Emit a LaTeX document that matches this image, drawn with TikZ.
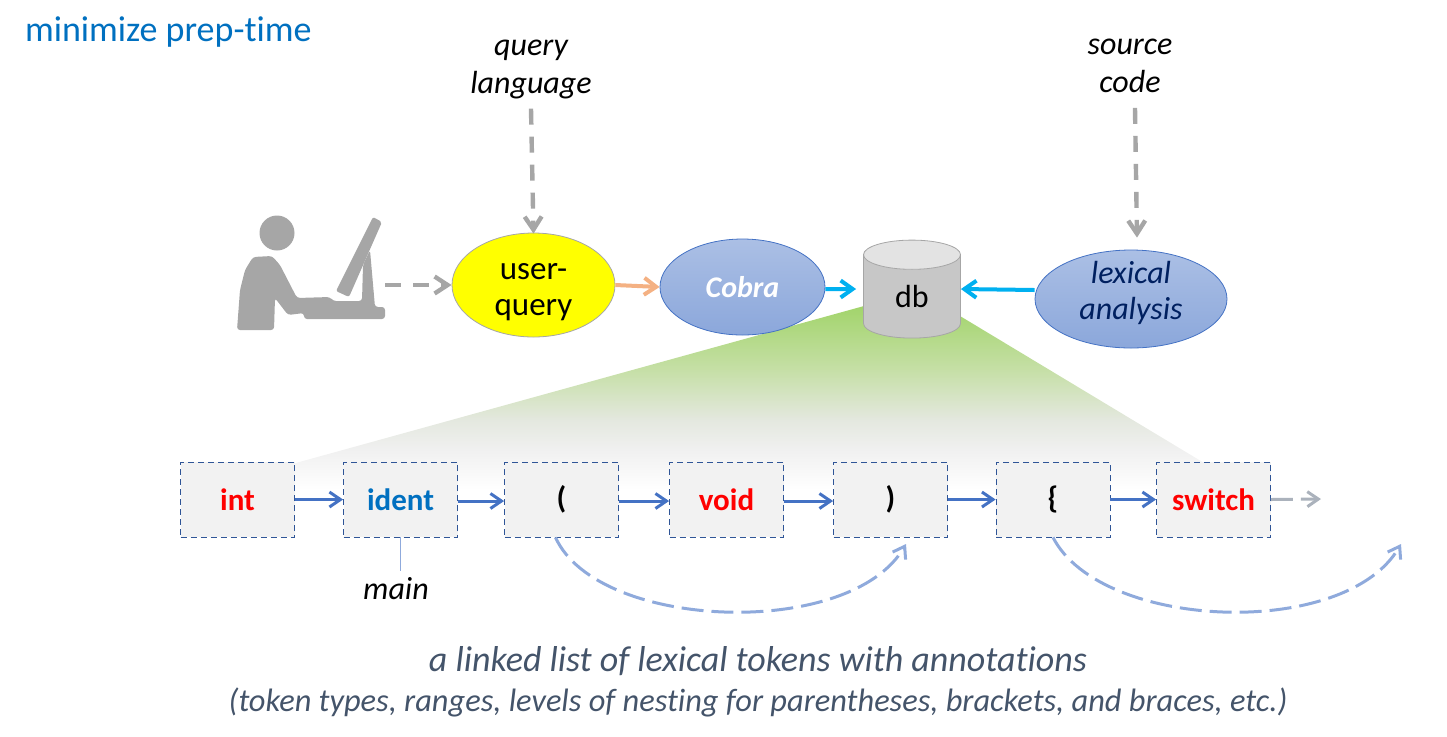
\documentclass[tikz,border=0pt]{standalone}
\usepackage{fontspec}
\setmainfont{Carlito}[Ligatures=NoCommon]
\usetikzlibrary{shapes.geometric, arrows.meta, positioning}
\definecolor{Title}{RGB}{0, 112, 192}
\definecolor{Slate}{RGB}{68, 84, 106}
\definecolor{Ash}{RGB}{166, 166, 166}
\definecolor{Peach}{RGB}{244, 177, 131}
\definecolor{Sky}{RGB}{0, 176, 240}
\definecolor{Link}{RGB}{68, 114, 196}
\definecolor{Soft}{RGB}{143, 170, 220}
\definecolor{Navy}{RGB}{0, 32, 96}
\definecolor{Edge}{RGB}{47, 85, 151}
\definecolor{Lemon}{RGB}{255, 255, 0}
\definecolor{Scarlet}{RGB}{255, 0, 0}
\definecolor{Leaf}{RGB}{162, 212, 107}
\definecolor{Pale}{RGB}{197, 223, 165}
\definecolor{Fog}{RGB}{228, 232, 223}
\definecolor{Mist}{RGB}{240, 240, 240}
\pgfdeclareverticalshading{zoomfade}{100bp}{color(0bp)=(white); color(25bp)=(white); color(36bp)=(Mist); color(44bp)=(Fog); color(58bp)=(Pale); color(75bp)=(Leaf); color(100bp)=(Leaf)}
\tikzset{
  note/.style={font=\fontsize{16}{19}\selectfont\itshape, align=center},
  tool/.style={ellipse, draw=Link, inner sep=0pt, inner ysep=-3pt, top color=Soft!75!white, bottom color=Soft!95!Link, align=center, font=\fontsize{16}{18}\selectfont\itshape},
  token/.style={draw=Edge, densely dashed, line width=0.4pt, fill=black!5, minimum width=57pt, minimum height=37.5pt, inner sep=0pt, font=\fontsize{15.5}{18}\selectfont\bfseries},
  next/.style={-{Straight Barb[length=5.5pt,width=7.5pt]}, Link, line width=1.5pt},
  jump/.style={-{Straight Barb[length=5.5pt,width=7.5pt]}, Soft, line width=1.5pt, dash pattern=on 11pt off 4pt},
  feed/.style={-{Straight Barb[length=6.5pt,width=8.5pt]}, Ash, line width=2.2pt, dash pattern=on 8pt off 6pt},
  store/.style={-{Straight Barb[length=6pt,width=8.5pt]}, Sky, line width=2pt},
}
\begin{document}
\begin{tikzpicture}[x=0.5pt, y=-0.5pt]
  \useasboundingbox (0,0) rectangle (1447,736);

  % zoom wedge
  \shade[shading=zoomfade] (864,306) -- (960,316) -- (1249,490) -- (198,490) -- cycle;

  \node[font=\fontsize{18}{20}\selectfont, text=Title, anchor=west] (title) at (18,32) {minimize prep-time};
  \node[note] (lang) at (531,69) {query\\language};
  \node[note] (src) at (1130,66) {source\\code};

  % person at the screen
  \fill[Ash] (277,233) circle (17.5);
  \fill[Ash, rounded corners=1.5pt] (237,330) -- (240,290) -- (245,270) -- (253,257) -- (272,256) -- (280,265) -- (297,298)
    -- (330,297) -- (333,301) -- (362,301) -- (363,265) -- (370,250) -- (375,307) -- (385,307)
    -- (385,319) -- (304,319) -- (304,313) -- (288,315) -- (275,298) -- (274,330) -- cycle;
  \fill[Ash, rounded corners=1pt] (373,217) -- (382,222) -- (349,297) -- (336,291) -- cycle;
  \coordinate (desk) at (385,285);

  \node[ellipse, draw=Ash, line width=0.4pt, fill=Lemon, minimum width=81.5pt, minimum height=52pt, inner sep=0pt, inner ysep=-4pt, align=center, font=\fontsize{16.5}{18}\selectfont] (query) at (533.5,285) {\rule{0pt}{15pt}user-\\query};
  \node[tool, minimum width=82.5pt, minimum height=48pt, text=white, font=\fontsize{15}{18}\selectfont\itshape\bfseries] (cobra) at (742.5,287) {\raisebox{-1pt}{Cobra}};
  \node[tool, minimum width=96pt, minimum height=49pt, text=Navy] (lexer) at (1131,299) {lexical\\analysis\rule[-9pt]{0pt}{9pt}};

  \node[cylinder, shape border rotate=90, draw=black!35, line width=0.4pt, aspect=0.87, minimum width=48.5pt, minimum height=49pt, inner sep=0pt,
    cylinder uses custom fill, cylinder body fill=black!22, cylinder end fill=black!11, font=\fontsize{16}{18}\selectfont] (db) at (912,296.6) {db};

  % token list
  \node[token, text=Scarlet] (tint) at (237.5,499.5) {int};
  \node[token, text=Title] (tident) at (400.5,499.5) {ident};
  \node[token] (topen) at (561.5,499.5) {(};
  \node[token, text=Scarlet] (tvoid) at (726.5,499.5) {void};
  \node[token] (tclose) at (890.5,499.5) {)};
  \node[token] (tbrace) at (1053,499.5) {\{};
  \node[token, text=Scarlet] (tswitch) at (1213.5,499.5) {switch};
  \coordinate (tail) at (1321,499);
  \coordinate (jumpa) at (906,544);
  \coordinate (jumpb) at (1401,544);

  \node[note] (lbl) at (396,589) {main};
  \node[font=\fontsize{18}{20}\selectfont\itshape, text=Slate] (cap) at (758,661) {a linked list of lexical tokens with annotations};
  \node[font=\fontsize{16.2}{18}\selectfont\itshape, text=Slate] (sub) at (758,702) {(token types, ranges, levels of nesting for parentheses, brackets, and braces, etc.)};

  % connectors
  \draw[feed] (lang.south) ++(0,3) -- ([yshift=-0.5pt]query.north);
  \draw[feed] (src.south) ++(5,8) -- ([xshift=3pt,yshift=6pt]lexer.north);
  \draw[feed] (desk) -- (query.west);
  \draw[-{Straight Barb[length=6pt,width=8.5pt]}, Peach, line width=2pt] (query.east) -- (cobra.west);
  \draw[store] ([yshift=-1pt]cobra.east) -- ([xshift=-3.5pt,yshift=3.8pt]db.west);
  \draw[store] ([yshift=4.5pt]lexer.west) -- ([yshift=3.8pt]db.east);

  \draw[next] (tint) -- (tident);
  \draw[next] ([yshift=-0.75pt]tident.east) -- ([yshift=-0.75pt]topen.west);
  \draw[next] ([yshift=-0.75pt]topen.east) -- ([yshift=-0.75pt]tvoid.west);
  \draw[next] ([yshift=-0.75pt]tvoid.east) -- ([yshift=-0.75pt]tclose.west);
  \draw[next] (tclose) -- (tbrace);
  \draw[next] (tbrace) -- (tswitch);
  \draw[-{Straight Barb[length=5.5pt,width=7.5pt]}, Slate!45!white, line width=1.5pt, dash pattern=on 11pt off 4pt] (tswitch.east) -- (tail);

  \draw[Soft, line width=0.6pt] (tident.south) -- (tident.south |- lbl.north);
  \draw[jump] ([xshift=-3pt]topen.south) .. controls +(42,93) and (850,640) .. (jumpa);
  \draw[jump] (tbrace.south) .. controls +(48,93) and (1345,640) .. (jumpb);
\end{tikzpicture}
\end{document}
